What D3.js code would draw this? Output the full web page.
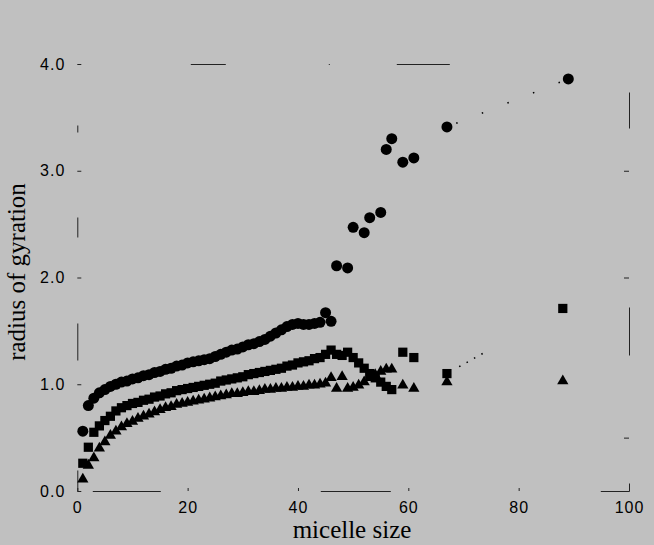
<!DOCTYPE html>
<html>
<head>
<meta charset="utf-8">
<script src="https://cdn.jsdelivr.net/npm/d3@7"></script>
<style>
  html, body { margin: 0; padding: 0; background: #c0c0c0; }
  svg { display: block; }
</style>
</head>
<body>
<svg id="chart" width="654" height="545"></svg>
<script>
// ---------- data ----------
const xTickValues = [0, 20, 40, 60, 80, 100];
const yTickValues = [0, 1, 2, 3, 4];
const xTitle = "micelle size";
const yTitle = "radius of gyration";

// circles
const circleSizes = [1,2,3,4,5,6,7,8,9,10,11,12,13,14,15,16,17,18,19,20,21,22,23,24,25,26,27,28,29,30,
  31,32,33,34,35,36,37,38,39,40,41,42,43,44,45,46,47,49,50,52,53,55,56,57,59,61,67,89];
const circleRg = [0.56,0.80,0.87,0.92,0.95,0.98,1.00,1.02,1.03,1.05,1.06,1.08,1.09,1.11,1.12,1.14,1.15,1.17,1.18,1.20,
  1.21,1.22,1.23,1.24,1.26,1.28,1.30,1.32,1.33,1.35,1.37,1.38,1.40,1.42,1.45,1.48,1.51,1.54,1.56,1.57,
  1.56,1.56,1.57,1.58,1.67,1.59,2.11,2.09,2.47,2.42,2.56,2.61,3.20,3.30,3.08,3.12,3.41,3.86];

// squares
const squareSizes = [1,2,3,4,5,6,7,8,9,10,11,12,13,14,15,16,17,18,19,20,21,22,23,24,25,26,27,28,29,30,
  31,32,33,34,35,36,37,38,39,40,41,42,43,44,45,46,47,48,49,50,51,52,53,54,55,56,57,59,61,67,88];
const squareRg = [0.26,0.41,0.55,0.61,0.66,0.70,0.75,0.78,0.80,0.82,0.83,0.85,0.86,0.88,0.89,0.91,0.92,0.94,0.95,0.96,
  0.97,0.98,0.99,1.00,1.01,1.03,1.04,1.05,1.06,1.07,1.09,1.10,1.11,1.12,1.13,1.14,1.15,1.17,1.18,1.20,
  1.21,1.22,1.24,1.25,1.28,1.32,1.28,1.27,1.30,1.25,1.20,1.15,1.10,1.06,1.02,0.98,0.95,1.30,1.25,1.10,1.71];

// triangles
const triangleSizes = [1,2,3,4,5,6,7,8,9,10,11,12,13,14,15,16,17,18,19,20,21,22,23,24,25,26,27,28,29,30,
  31,32,33,34,35,36,37,38,39,40,41,42,43,44,45,46,47,48,49,50,51,52,53,54,55,56,57,59,61,67,88];
const triangleRg = [0.11,0.24,0.31,0.40,0.46,0.52,0.56,0.60,0.63,0.65,0.68,0.70,0.72,0.74,0.76,0.78,0.79,0.81,0.82,0.83,
  0.84,0.85,0.86,0.87,0.88,0.89,0.90,0.91,0.91,0.92,0.93,0.93,0.94,0.95,0.95,0.96,0.96,0.97,0.97,0.98,
  0.98,0.99,0.99,1.00,1.01,1.06,0.96,1.07,0.96,0.97,0.99,1.02,1.06,1.09,1.12,1.14,1.14,0.99,0.96,1.02,1.03];

// dotted connector lines (from -> to, in data units)
const circleConnector = [[67, 3.41], [89, 3.86]];
const squareConnector = [[67, 1.10], [88, 1.71]];

// ---------- drawing ----------
const svg = d3.select("#chart");
const x = d3.scaleLinear().domain([0, 100]).range([77.3, 629]);
const y = d3.scaleLinear().domain([0, 4]).range([491, 64]);

const ink = "#000";
const tickFont = "'Liberation Sans', Arial, Helvetica, sans-serif";
const titleFont = "'Liberation Serif', 'Times New Roman', Times, serif";

function styleAxis(g, dash) {
  g.select(".domain").attr("stroke", "#222").attr("stroke-width", 1).attr("stroke-dasharray", dash);
  g.selectAll(".tick line").attr("stroke", "#222");
  g.selectAll(".tick text").attr("fill", ink).style("font-family", tickFont).style("font-size", "16px").style("letter-spacing", "1px");
}

// bottom axis
svg.append("g")
  .attr("transform", `translate(0,${y(0)})`)
  .call(d3.axisBottom(x).tickValues(xTickValues).tickFormat(d3.format("d"))
        .tickSizeInner(-3).tickSizeOuter(0).tickPadding(11))
  .call(g => styleAxis(g, "0,15,68,160,70,210,29"));

// left axis
svg.append("g")
  .attr("transform", `translate(${x(0)},0)`)
  .call(d3.axisLeft(y).tickValues(yTickValues).tickFormat(d3.format(".1f"))
        .tickSizeInner(-4).tickSizeOuter(0).tickPadding(12))
  .call(g => styleAxis(g, "21,110,37,86,20,85,7,100"));

// right axis (frame, no labels)
svg.append("g")
  .attr("transform", `translate(${x(100)},0)`)
  .call(d3.axisRight(y).tickValues([0.5, 2, 3]).tickFormat("")
        .tickSizeInner(-5).tickSizeOuter(0))
  .call(g => styleAxis(g, "8,128,48,179,36,50"));

// top axis (frame, no labels)
svg.append("g")
  .attr("transform", `translate(0,${y(4)})`)
  .call(d3.axisTop(x).tickValues([]).tickSizeOuter(0))
  .call(g => styleAxis(g, "0,113,35,103,1,67,53,180,2"));

// dotted connectors
const line = d3.line().x(d => x(d[0])).y(d => y(d[1]));
svg.append("path").datum(circleConnector).attr("d", line)
  .attr("fill", "none").attr("stroke", ink).attr("stroke-width", 1.5)
  .attr("stroke-dasharray", "0,10,1.5,16");
svg.append("path").datum(squareConnector).attr("d", line)
  .attr("fill", "none").attr("stroke", ink).attr("stroke-width", 1.5)
  .attr("stroke-dasharray", "0,14,1.5,7,1.5,7,1.5,7,1.5,300");

// markers
const tri = d3.symbol().type(d3.symbolTriangle).size(55);
const sq = d3.symbol().type(d3.symbolSquare).size(85);

svg.append("g").selectAll("path")
  .data(d3.zip(triangleSizes, triangleRg))
  .join("path")
  .attr("d", tri)
  .attr("transform", d => `translate(${x(d[0])},${y(d[1])})`)
  .attr("fill", ink);

svg.append("g").selectAll("path")
  .data(d3.zip(squareSizes, squareRg))
  .join("path")
  .attr("d", sq)
  .attr("transform", d => `translate(${x(d[0])},${y(d[1])})`)
  .attr("fill", ink);

svg.append("g").selectAll("circle")
  .data(d3.zip(circleSizes, circleRg))
  .join("circle")
  .attr("cx", d => x(d[0]))
  .attr("cy", d => y(d[1]))
  .attr("r", 5.5)
  .attr("fill", ink);

// axis titles
svg.append("text")
  .attr("x", 352).attr("y", 538)
  .attr("text-anchor", "middle")
  .style("font-family", titleFont).style("font-size", "25px")
  .attr("fill", ink)
  .text(xTitle);

svg.append("text")
  .attr("transform", "translate(25,272) rotate(-90)")
  .attr("text-anchor", "middle")
  .style("font-family", titleFont).style("font-size", "25px")
  .attr("fill", ink)
  .text(yTitle);
</script>
</body>
</html>
